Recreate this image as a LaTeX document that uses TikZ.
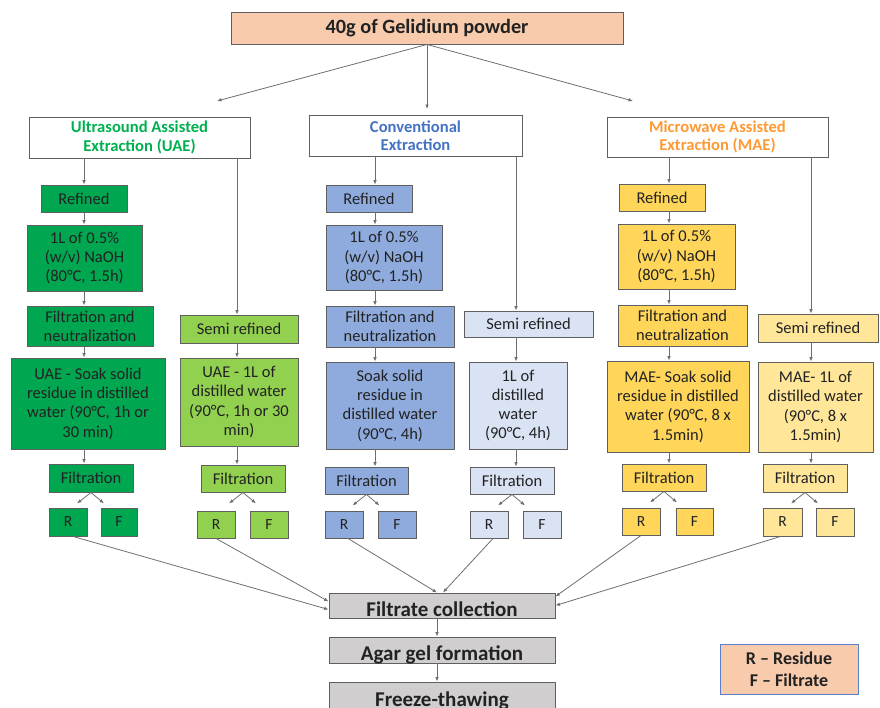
\documentclass[tikz,border=0pt]{standalone}
\usepackage{fontspec}
\setmainfont{Carlito}
\usetikzlibrary{arrows.meta,calc}

\definecolor{edge}{HTML}{5F5F5F}
\definecolor{ink}{HTML}{222222}
\definecolor{wire}{HTML}{6E6E6E}
\definecolor{peach}{HTML}{F8CBAD}
\definecolor{greenD}{HTML}{00A650}
\definecolor{greenL}{HTML}{92D050}
\definecolor{blueD}{HTML}{8FAADC}
\definecolor{blueL}{HTML}{DAE3F3}
\definecolor{yelD}{HTML}{FFD65A}
\definecolor{yelL}{HTML}{FFE699}
\definecolor{greyB}{HTML}{D0CECE}
\definecolor{uaeTxt}{HTML}{00B050}
\definecolor{convTxt}{HTML}{4472C4}
\definecolor{maeTxt}{HTML}{FF9933}
\definecolor{legEdge}{HTML}{5B7FC7}

\tikzset{
  box/.style={draw=edge, line width=0.9pt, inner sep=0pt, align=center,
              text=ink, font=\fontsize{16.5}{19.3}\selectfont},
  sz/.style 2 args={minimum width=#1, minimum height=#2},
  head/.style={box, fill=white, font=\bfseries\fontsize{16.6}{18.5}\selectfont},
  final/.style={box, fill=greyB, font=\bfseries\fontsize{21}{22}\selectfont},
  letter/.style={box, font=\fontsize{15.5}{16}\selectfont},
  arr/.style={draw=wire, line width=0.8pt, -{Latex[length=4.5pt,width=3.6pt]}},
}

\newcommand{\splitto}[1]{%
  \draw[arr] (#1.south) -- ($(#1.south)+(-14,11)$);
  \draw[arr] (#1.south) -- ($(#1.south)+(13,11)$);
}

\begin{document}
\begin{tikzpicture}[x=1pt,y=-1pt]
\useasboundingbox (0,0) rectangle (880,707);
\clip (0,0) rectangle (880,707);

% source material
\node[box, fill=peach, sz={392}{32}, font=\bfseries\fontsize{20.3}{22}\selectfont] (top) at (427,28) {40g of Gelidium powder};

% the three extraction routes
\node[head, sz={221}{41}, text=uaeTxt]  (uae)  at (139.5,137.5) {Ultrasound Assisted\\Extraction (UAE)};
\node[head, sz={213}{41}, text=convTxt] (conv) at (415.5,135.5) {Conventional\\Extraction};
\node[head, sz={221}{40}, text=maeTxt]  (mae)  at (717.5,137)   {Microwave Assisted\\Extraction (MAE)};

\coordinate (ux) at (84,0);
\coordinate (lx) at (237,0);
\coordinate (cx) at (375,0);
\coordinate (bx) at (516,0);
\coordinate (mx) at (669,0);
\coordinate (yx) at (811,0);
\coordinate (fx) at (437,0);
\coordinate (toUAE) at (217,101);
\coordinate (toCONV) at (427,109);
\coordinate (toMAE) at (633,101);

\draw[arr] (top.south) -- (toUAE);
\draw[arr] (top.south) -- (toCONV);
\draw[arr] (top.south) -- (toMAE);

% UAE refined
\node[box, fill=greenD, sz={86}{27}]  (uref)  at (84,198.5) {Refined};
\node[box, fill=greenD, sz={115}{66}] (unaoh) at (84.5,258) {1L of 0.5\%\\(w/v) NaOH\\(80°C, 1.5h)};
\node[box, fill=greenD, sz={126}{40}] (ufn)   at (90,326)   {Filtration and\\neutralization};
\node[box, fill=greenD, sz={154}{91}] (usoak) at (88,403.5) {UAE - Soak solid\\residue in distilled\\water (90°C, 1h or\\30 min)};
\node[box, fill=greenD, sz={84}{28}]  (ufil)  at (91,478)   {Filtration};
\node[letter, fill=greenD, sz={38}{28}] (uR) at (68,522)  {R};
\node[letter, fill=greenD, sz={36}{28}] (uF) at (119,522) {F};

% UAE semi refined
\node[box, fill=greenL, sz={118}{28}] (lsemi)  at (239,329)   {Semi refined};
\node[box, fill=greenL, sz={118}{88}] (lwater) at (239,402)   {UAE - 1L of\\distilled water\\(90°C, 1h or 30\\min)};
\node[box, fill=greenL, sz={84}{27}]  (lfil)   at (243,478.5) {Filtration};
\node[letter, fill=greenL, sz={38}{27}] (lR) at (216,524.5) {R};
\node[letter, fill=greenL, sz={38}{27}] (lF) at (269,524.5) {F};

% conventional refined
\node[box, fill=blueD, sz={86}{27}]  (cref)  at (369,198.5) {Refined};
\node[box, fill=blueD, sz={116}{65}] (cnaoh) at (384,257.5) {1L of 0.5\%\\(w/v) NaOH\\(80°C, 1.5h)};
\node[box, fill=blueD, sz={128}{41}] (cfn)   at (390,326.5) {Filtration and\\neutralization};
\node[box, fill=blueD, sz={128}{87}] (csoak) at (390,405.5) {Soak solid\\residue in\\distilled water\\(90°C, 4h)};
\node[box, fill=blueD, sz={83}{27}]  (cfil)  at (366.5,480.5) {Filtration};
\node[letter, fill=blueD, sz={38}{27}] (cR) at (344,524.5) {R};
\node[letter, fill=blueD, sz={38}{27}] (cF) at (397,524.5) {F};

% conventional semi refined
\node[box, fill=blueL, sz={129}{26}] (bsemi)  at (528.5,324) {Semi refined};
\node[box, fill=blueL, sz={98}{87}]  (bwater) at (518,405.5) {1L of\\distilled\\water\\(90°C, 4h)};
\node[box, fill=blueL, sz={84}{27}]  (bfil)   at (512,480.5) {Filtration};
\node[letter, fill=blueL, sz={38}{27}] (bR) at (489,524.5) {R};
\node[letter, fill=blueL, sz={38}{27}] (bF) at (542,524.5) {F};

% MAE refined
\node[box, fill=yelD, sz={86}{27}]  (mref)  at (662,197.5) {Refined};
\node[box, fill=yelD, sz={117}{65}] (mnaoh) at (676.5,256.5) {1L of 0.5\%\\(w/v) NaOH\\(80°C, 1.5h)};
\node[box, fill=yelD, sz={129}{41}] (mfn)   at (682.5,325.5) {Filtration and\\neutralization};
\node[box, fill=yelD, sz={142}{91}] (msoak) at (678,406.5) {MAE- Soak solid\\residue in distilled\\water (90°C, 8 x\\1.5min)};
\node[box, fill=yelD, sz={84}{27}]  (mfil)  at (664,477.5) {Filtration};
\node[letter, fill=yelD, sz={38}{27}] (mR) at (641,521.5) {R};
\node[letter, fill=yelD, sz={37}{27}] (mF) at (694.5,521.5) {F};

% MAE semi refined
\node[box, fill=yelL, sz={120}{28}] (ysemi)  at (818,328)   {Semi refined};
\node[box, fill=yelL, sz={115}{90}] (ywater) at (815.5,407) {MAE- 1L of\\distilled water\\(90°C, 8 x\\1.5min)};
\node[box, fill=yelL, sz={84}{28}]  (yfil)   at (805,478)   {Filtration};
\node[letter, fill=yelL, sz={39}{28}] (yR) at (782.5,522) {R};
\node[letter, fill=yelL, sz={38}{28}] (yF) at (835,522)   {F};

% common final steps (text sits low in these boxes)
\node[final, sz={226}{25}, text height=22pt, text depth=0pt] (fc) at (442,605.5) {Filtrate collection};
\node[final, sz={226}{26}, text height=20pt, text depth=0pt] (ag) at (442,650)   {Agar gel formation};
\node[final, sz={226}{34}, text height=18pt, text depth=4pt] (ft) at (442,699)   {Freeze-thawing};

% legend
\node[box, fill=peach, draw=legEdge, sz={138}{50}, font=\bfseries\fontsize{18}{21.5}\selectfont] (leg) at (789,669) {R – Residue\\F – Filtrate};

% vertical chains
\foreach \c/\a/\b in {ux/uae/uref, ux/uref/unaoh, ux/unaoh/ufn, ux/ufn/usoak, ux/usoak/ufil,
                      lx/uae/lsemi, lx/lsemi/lwater, lx/lwater/lfil,
                      cx/conv/cref, cx/cref/cnaoh, cx/cnaoh/cfn, cx/cfn/csoak, cx/csoak/cfil,
                      bx/conv/bsemi, bx/bsemi/bwater, bx/bwater/bfil,
                      mx/mae/mref, mx/mref/mnaoh, mx/mnaoh/mfn, mx/mfn/msoak, mx/msoak/mfil,
                      yx/mae/ysemi, yx/ysemi/ywater, yx/ywater/yfil}
  \draw[arr] (\a.south -| \c) -- (\b.north -| \c);

% filtration splits into residue and filtrate
\splitto{ufil}
\splitto{lfil}
\splitto{cfil}
\splitto{bfil}
\splitto{mfil}
\splitto{yfil}

% streams into filtrate collection
\draw[arr] ([xshift=5]uR.south) -- ($(fc.west)+(0,4)$);
\draw[arr] (lR.south) -- ($(fc.west)+(0,-4)$);
\draw[arr] ([xshift=4]cR.south) -- ($(fc.north)+(-5,0)$);
\draw[arr] ([xshift=4]bR.south) -- ($(fc.north)+(1,0)$);
\draw[arr] (mR.south) -- ($(fc.east)+(0,-9)$);
\draw[arr] ([xshift=-2]yR.south) -- ($(fc.east)+(0,0)$);

% final sequence
\draw[arr] (fc.south -| fx) -- (ag.north -| fx);
\draw[arr] (ag.south -| fx) -- (ft.north -| fx);
\end{tikzpicture}
\end{document}
